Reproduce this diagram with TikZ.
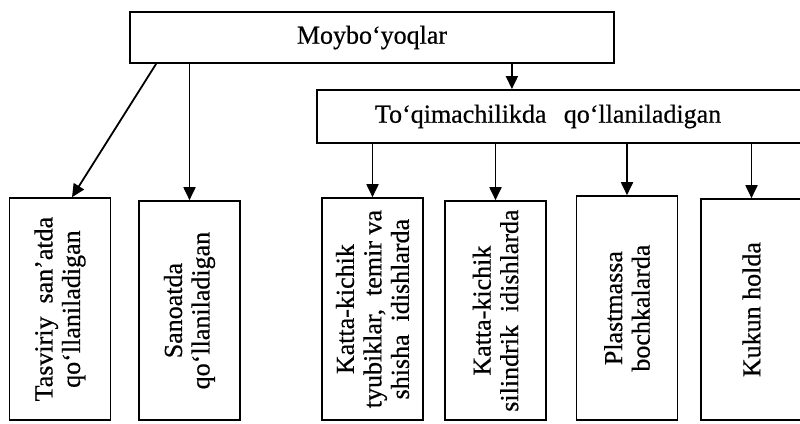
\documentclass[tikz,border=0pt]{standalone}
\usepackage{fontspec}
\setmainfont{Liberation Serif}[FakeBold=0.6]
\usetikzlibrary{arrows.meta,calc}
\newdimen\unit
\tikzset{unit/.code={\unit=\dimexpr#1\relax}}
\tikzset{xy/.style={x={#1},y={-#1},unit={#1},line width=1.8\unit}}
\tikzset{box/.style={draw,fill=white,font={\fontsize{26\unit}{28\unit}\selectfont}}}
\tikzset{leaf/.style={draw,rotate=90,anchor=west,minimum height=101\unit,minimum width={(421-#1)*\unit},align=center,inner sep=0pt,font={\fontsize{26\unit}{27.5\unit}\selectfont}}}
\tikzset{arr/.style={-{Triangle[length=13pt,width=12pt]}}}

\begin{document}
\begin{tikzpicture}[xy=1pt]%
    \path [use as bounding box] (0,0) rectangle (800,423);
    \clip (0,0) rectangle (800,423);
    \node [box, minimum width=484\unit, minimum height=51\unit] (top) at (372,37.5) {Moybo‘yoqlar};
    \node [box, minimum width=493\unit, minimum height=53\unit, inner xsep=58\unit, text width=377\unit, align=left] (tex) at (563.5,116.5) {To‘qimachilikda\ \ qo‘llaniladigan};
    \node [leaf=199] (tasv) at (60,421) {Tasviriy\ \ san’atda\\qo‘llaniladigan};
    \node [leaf=202] (sano) at (189.5,421) {Sanoatda\\qo‘llaniladigan};
    \node [leaf=199] (tyub) at (372.5,421) {Katta-kichik\\tyubiklar,\ \ temir va\\shisha\ \ idishlarda};
    \node [leaf=202] (sili) at (495.5,421) {Katta-kichik\\silindrik\ \ idishlarda};
    \node [leaf=197] (plas) at (627,421) {Plastmassa\\bochkalarda};
    \node [leaf=200] (kuku) at (751.5,421) {Kukun holda};
    \draw [arr] ([xshift=27\unit]top.south west) -- ($(tasv.east)+(12,0)$);
    \draw [arr] (top.south -| sano.center) -- (sano.east);
    \draw [arr] ([xshift=-103\unit]top.south east) coordinate (t) -- (t |- tex.north);
    \foreach \n in {tyub,sili,plas,kuku} {
        \draw [arr] (tex.south -| \n.center) -- (\n.east);
    }
\end{tikzpicture}
\end{document}
